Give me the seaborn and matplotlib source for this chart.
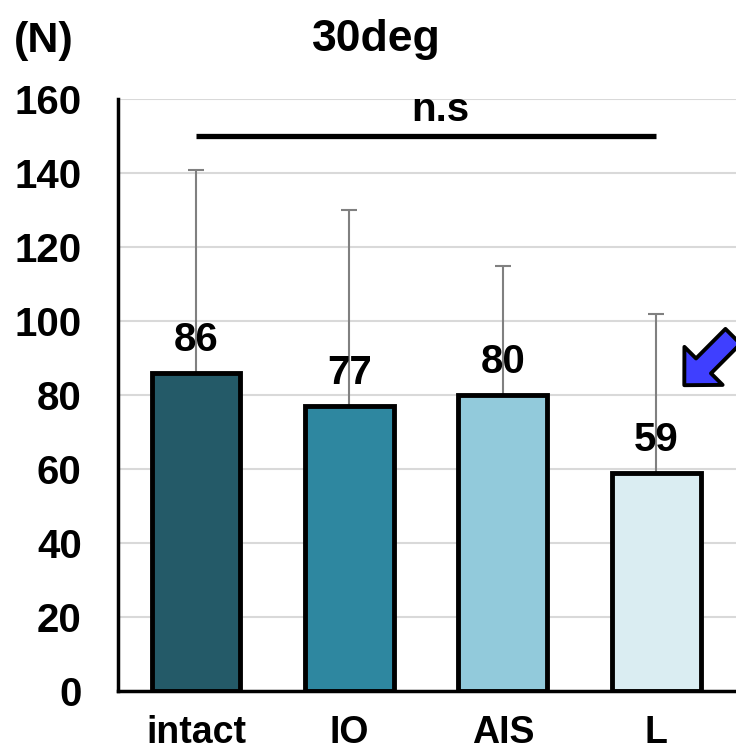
import matplotlib
matplotlib.use("Agg")
import matplotlib.pyplot as plt
import seaborn as sns
import pandas as pd

# data
groups = ["intact", "IO", "AIS", "L"]
means = [86, 77, 80, 59]
upper_sd = [55, 53, 35, 43]   # error bar tops at 141, 130, 115, 102
bar_colors = ["#245a68", "#2e87a0", "#92cadb", "#daedf2"]
yticks = [0, 20, 40, 60, 80, 100, 120, 140, 160]

sns.set_theme(style="white")
plt.rcParams["font.family"] = ["Liberation Sans", "DejaVu Sans"]
plt.rcParams["font.weight"] = "bold"
plt.rcParams["text.color"] = "black"
plt.rcParams["xtick.color"] = "black"
plt.rcParams["ytick.color"] = "black"

df = pd.DataFrame({"group": groups, "mean": means})

fig = plt.figure(figsize=(7.36, 7.52), dpi=100)
ax = fig.add_axes([0.160, 0.081, 0.840, 0.787])

ax.yaxis.grid(True, color="#d9d9d9", lw=1.5, zorder=0)
ax.set_axisbelow(True)

sns.barplot(data=df, x="group", y="mean", hue="group", palette=bar_colors,
            saturation=1, width=0.58, edgecolor="black", linewidth=3.5,
            legend=False, errorbar=None, ax=ax, zorder=2)

ax.errorbar(range(len(groups)), means, yerr=[[0] * len(groups), upper_sd],
            fmt="none", ecolor="#808080", elinewidth=1.5, capsize=6,
            capthick=1.5, zorder=1.5)

for i, v in enumerate(means):
    ax.text(i, v + 9, str(v), ha="center", va="center", fontsize=29,
            fontweight="bold", color="black", zorder=4)

# significance bar
ax.plot([0, 3], [150, 150], color="black", lw=3.8, solid_capstyle="butt",
        clip_on=False)
ax.text(1.59, 157, "n.s", ha="center", va="center", fontsize=29,
        fontweight="bold", color="black")

# blue arrow pointing at L
ax.annotate("", xy=(3.183, 82.7), xytext=(3.50, 95.9), annotation_clip=False,
            arrowprops=dict(arrowstyle="simple,head_width=0.97,head_length=0.49,tail_width=0.38",
                            fc="#3f3fff", ec="black", lw=2.8, mutation_scale=40,
                            shrinkA=0, shrinkB=0))

ax.set_xlim(-0.51, 3.52)
ax.set_ylim(0, 160)
ax.set_yticks(yticks)
ax.set_xlabel("")
ax.set_ylabel("")
ax.tick_params(axis="both", length=0, labelsize=29, colors="black")
ax.tick_params(axis="y", pad=26)
ax.tick_params(axis="x", pad=17)
for lab in ax.get_xticklabels() + ax.get_yticklabels():
    lab.set_fontweight("bold")
for lab in ax.get_xticklabels():
    lab.set_fontsize(27)

for s in ["top", "right"]:
    ax.spines[s].set_visible(False)
for s in ["left", "bottom"]:
    ax.spines[s].set_color("black")
    ax.spines[s].set_linewidth(2.5)

fig.text(0.059, 0.945, "(N)", ha="center", va="center", fontsize=31,
         fontweight="bold", color="black")
fig.text(0.511, 0.947, "30deg", ha="center", va="center", fontsize=32,
         fontweight="bold", color="black")

fig.savefig("out.png", dpi=100)
